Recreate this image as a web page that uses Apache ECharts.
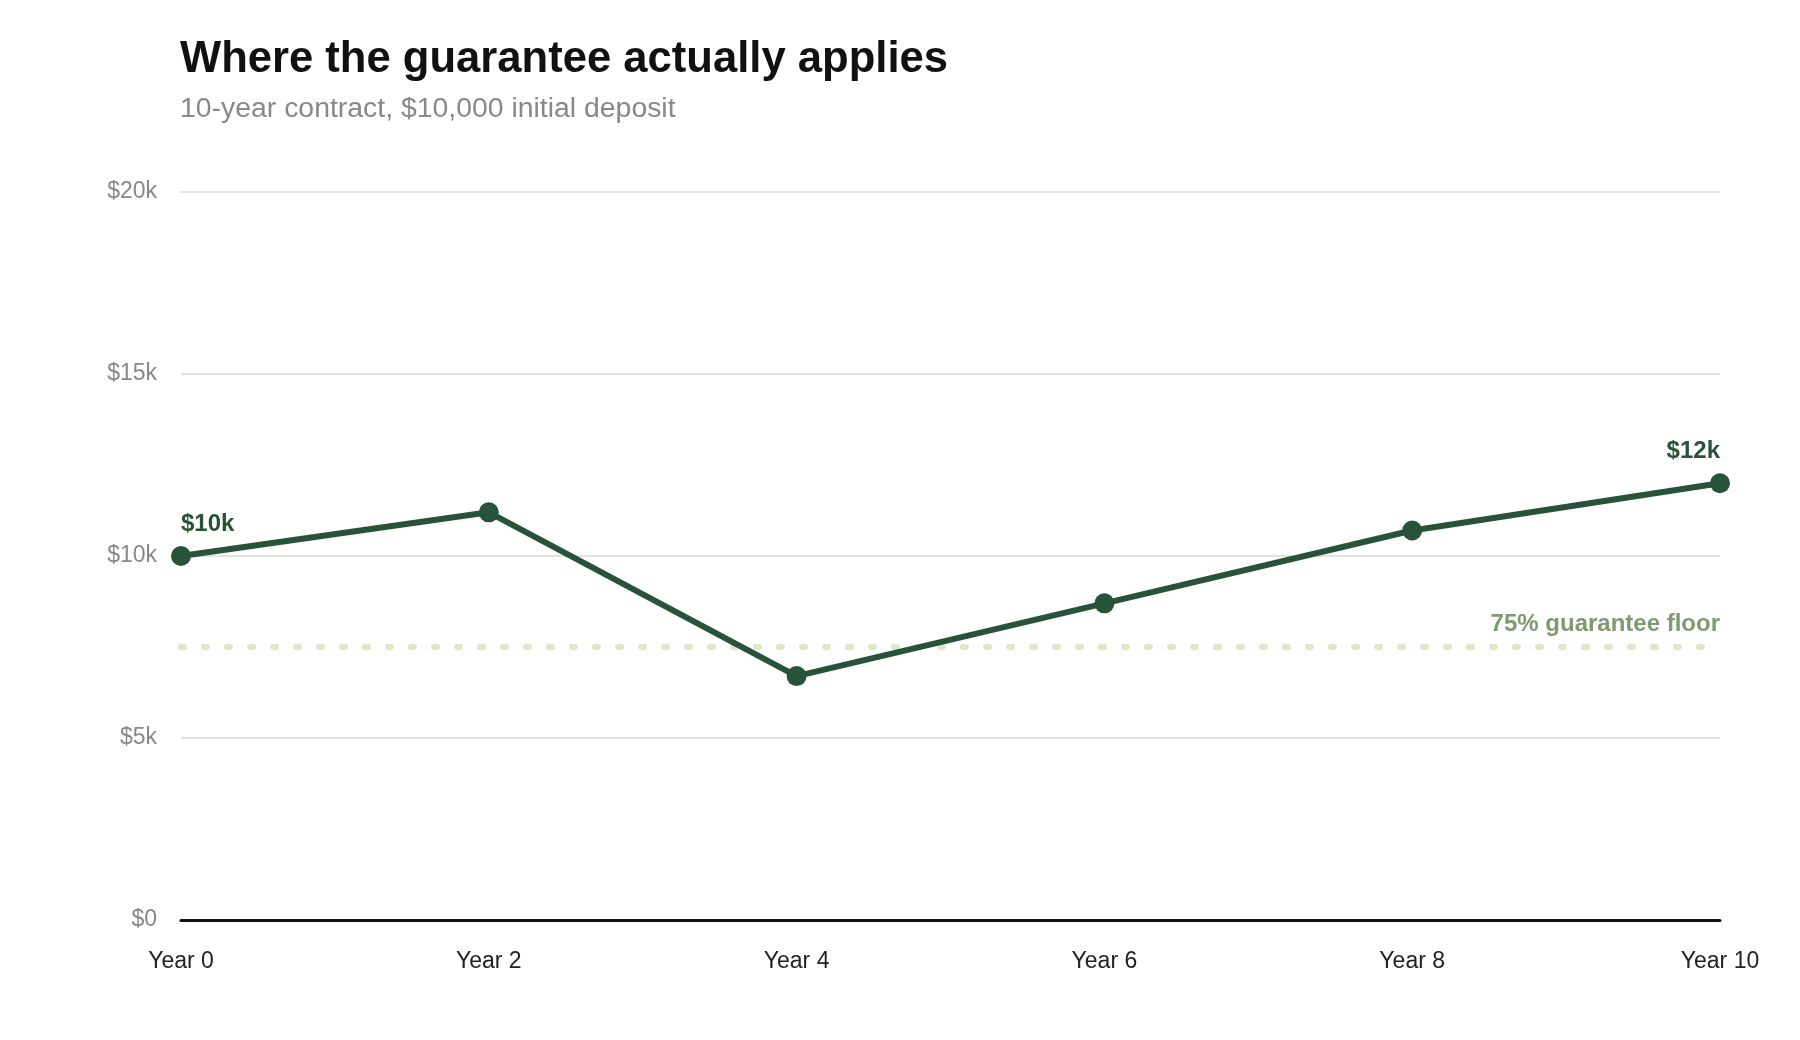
<!DOCTYPE html>
<html>
<head>
<meta charset="utf-8">
<title>Where the guarantee actually applies</title>
<script src="https://cdn.jsdelivr.net/npm/echarts@6/dist/echarts.min.js"></script>
<style>
  html, body { margin: 0; padding: 0; background: #fff; }
  #chart { width: 1800px; height: 1040px; }
</style>
</head>
<body>
<div id="chart"></div>
<script>
// data
var years = ['Year 0', 'Year 2', 'Year 4', 'Year 6', 'Year 8', 'Year 10'];
var contractValue = [10000, 11200, 6700, 8700, 10700, 12000];
var floorValue = 7500;
var yTicks = [0, 5000, 10000, 15000, 20000];

var FONT = '"Liberation Sans", Arial, Helvetica, sans-serif';
var GREEN = '#285239';

function money(v) {
    return v === 0 ? '$0' : '$' + Math.round(v / 1000) + 'k';
}

var myChart = echarts.init(document.getElementById('chart'));

// label only the first and last point
var seriesData = contractValue.map(function (v, i) {
    var item = { value: v };
    if (i === 0 || i === contractValue.length - 1) {
        item.label = {
            show: true,
            position: 'top',
            distance: 10,
            align: i === 0 ? 'left' : 'right',
            formatter: function (p) { return money(p.value); },
            color: GREEN,
            fontFamily: FONT,
            fontWeight: 'bold',
            fontSize: 24
        };
    }
    return item;
});

var option = {
    backgroundColor: '#fff',
    animation: false,
    title: {
        text: 'Where the guarantee actually applies',
        subtext: '10-year contract, $10,000 initial deposit',
        left: 175,
        top: 33,
        itemGap: 13,
        textStyle: {
            fontFamily: FONT,
            fontSize: 43.6,
            fontWeight: 'bold',
            color: '#111'
        },
        subtextStyle: {
            fontFamily: FONT,
            fontSize: 28.4,
            color: '#888'
        }
    },
    grid: {
        left: 181,
        right: 80,
        top: 192,
        bottom: 120,
        containLabel: false
    },
    xAxis: {
        type: 'category',
        data: years,
        boundaryGap: false,
        axisLine: { lineStyle: { color: '#111', width: 3 } },
        axisTick: { show: false },
        axisLabel: {
            margin: 30,
            fontFamily: FONT,
            fontSize: 23,
            color: '#222'
        },
        splitLine: { show: false }
    },
    yAxis: {
        type: 'value',
        min: yTicks[0],
        max: yTicks[yTicks.length - 1],
        interval: yTicks[1] - yTicks[0],
        axisLine: { show: false },
        axisTick: { show: false },
        axisLabel: {
            margin: 24,
            padding: [4, 0, 0, 0],
            fontFamily: FONT,
            fontSize: 23,
            color: '#888',
            formatter: money
        },
        splitLine: { lineStyle: { color: '#e2e2e2', width: 2 } }
    },
    series: [{
        name: 'Contract value',
        type: 'line',
        data: seriesData,
        symbol: 'circle',
        symbolSize: 20,
        lineStyle: { color: GREEN, width: 6 },
        itemStyle: { color: GREEN },
        z: 5,
        markLine: {
            silent: true,
            symbol: 'none',
            z: 2,
            lineStyle: {
                color: '#d9eac6',
                width: 6,
                type: [3, 20],
                cap: 'round'
            },
            label: {
                show: true,
                position: 'insideEndTop',
                distance: [0, 11],
                formatter: '75% guarantee floor',
                color: '#7f9a6e',
                fontFamily: FONT,
                fontWeight: 'bold',
                fontSize: 24
            },
            data: [{ yAxis: floorValue }]
        }
    }]
};

myChart.setOption(option);
</script>
</body>
</html>
